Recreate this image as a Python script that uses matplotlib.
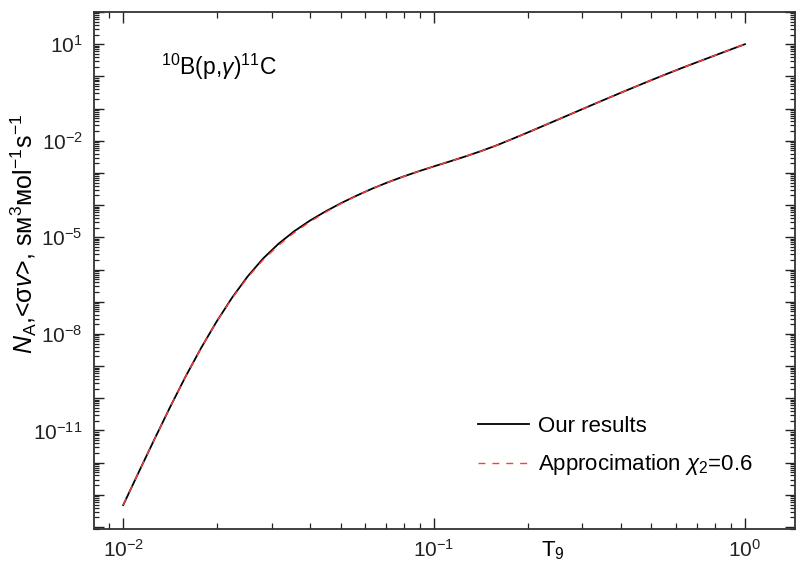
import matplotlib
matplotlib.use("Agg")
import matplotlib.pyplot as plt
import numpy as np
from matplotlib.ticker import LogLocator, FuncFormatter, NullFormatter

plt.rcParams['font.family'] = ['Liberation Sans', 'DejaVu Sans']
plt.rcParams['mathtext.fontset'] = 'custom'
plt.rcParams['mathtext.rm'] = 'Liberation Sans'
plt.rcParams['mathtext.it'] = 'Liberation Sans:italic'

# temperature T9
t9 = [0.01000, 0.01122, 0.01259, 0.01413, 0.01585, 0.01778, 0.01995, 0.02239,
      0.02512, 0.02818, 0.03162, 0.03548, 0.03981, 0.04467, 0.05012, 0.05623,
      0.06310, 0.07079, 0.07943, 0.08913, 0.1000, 0.1122, 0.1259, 0.1413,
      0.1585, 0.1778, 0.1995, 0.2239, 0.2512, 0.2818, 0.3162, 0.3548, 0.3981,
      0.4467, 0.5012, 0.5623, 0.6310, 0.7079, 0.7943, 0.8913, 1.000]

# log10 of N_A<sigma v>
log_rate_ours = [-13.317, -12.292, -11.280, -10.286, -9.335, -8.447, -7.624, -6.876,
                 -6.217, -5.658, -5.196, -4.811, -4.484, -4.199, -3.941, -3.708,
                 -3.491, -3.295, -3.115, -2.949, -2.794, -2.644, -2.489, -2.324,
                 -2.146, -1.950, -1.748, -1.542, -1.336, -1.129, -0.921, -0.715,
                 -0.511, -0.311, -0.112, 0.082, 0.272, 0.456, 0.638, 0.820, 1.000]

log_rate_approx = [-13.317, -12.292, -11.280, -10.286, -9.335, -8.447, -7.630, -6.895,
                   -6.250, -5.700, -5.245, -4.855, -4.520, -4.225, -3.955, -3.712,
                   -3.491, -3.295, -3.115, -2.949, -2.794, -2.644, -2.489, -2.324,
                   -2.146, -1.950, -1.748, -1.542, -1.336, -1.129, -0.921, -0.715,
                   -0.511, -0.311, -0.112, 0.082, 0.272, 0.456, 0.638, 0.820, 1.000]

labeled_exponents = [1, -2, -5, -8, -11]

our_results = np.power(10.0, log_rate_ours)
approximation = np.power(10.0, log_rate_approx)

fig = plt.figure(figsize=(7.97, 5.66), dpi=100)
ax = fig.add_axes([94/797, 37/566, (795-94)/797, (529-12)/566])

ax.plot(t9, our_results, color='black', lw=1.3, label='Our results')
ax.plot(t9, approximation, color='#ff3b3b', lw=1.0, dashes=(5, 5),
        label=r'Approcimation $\chi_2$=0.6')

ax.set_xscale('log')
ax.set_yscale('log')
ax.set_xlim(10**-2.094, 10**0.161)
ax.set_ylim(10**-14.06, 10**2.0)

ax.xaxis.set_major_locator(LogLocator(base=10, numticks=20))
ax.xaxis.set_minor_locator(LogLocator(base=10, subs=range(2, 10), numticks=50))
ax.xaxis.set_minor_formatter(NullFormatter())

ax.yaxis.set_major_locator(LogLocator(base=10, subs=(1.0,), numticks=40))
ax.yaxis.set_minor_locator(LogLocator(base=10, subs=range(2, 10), numticks=200))
ax.yaxis.set_minor_formatter(NullFormatter())

def yfmt(v, pos):
    e = int(round(np.log10(v)))
    if e in labeled_exponents:
        return r'$\mathdefault{10^{%d}}$' % e
    return ''

def xfmt(v, pos):
    e = int(round(np.log10(v)))
    return r'$\mathdefault{10^{%d}}$' % e

ax.yaxis.set_major_formatter(FuncFormatter(yfmt))
ax.xaxis.set_major_formatter(FuncFormatter(xfmt))

ax.tick_params(which='both', direction='in', top=True, right=True,
               labelsize=15, colors='#222222')
ax.tick_params(axis='x', which='major', length=8, width=1.0, pad=7)
ax.tick_params(axis='x', which='minor', length=4, width=0.9)
ax.tick_params(axis='y', which='major', length=7, width=1.0, pad=8)
ax.tick_params(axis='y', which='minor', length=3.5, width=0.9)

for s in ax.spines.values():
    s.set_linewidth(1.3)
    s.set_color('#333333')

ax.set_xlabel(r'T$_9$', fontsize=16)
ax.xaxis.set_label_coords(0.655, -0.02)
ax.xaxis.label.set_va('top')

ax.set_ylabel(r'$\mathit{N}_{\mathrm{A}}$,<σ$\mathit{v}$>, sм$^{3}$мol$^{-1}$s$^{-1}$',
              fontsize=18)
ax.yaxis.set_label_coords(-0.079, 0.57)

ax.text(0.095, 0.893, r'$^{10}$B(p,$\gamma$)$^{11}$C', transform=ax.transAxes,
        fontsize=16.5, ha='left', va='center')

leg = ax.legend(loc='upper left', bbox_to_anchor=(0.548, 0.219), frameon=False,
                fontsize=16, handlelength=2.3, handletextpad=0.4, labelspacing=0.7,
                borderpad=0, borderaxespad=0)

fig.savefig('out.png', dpi=100)
